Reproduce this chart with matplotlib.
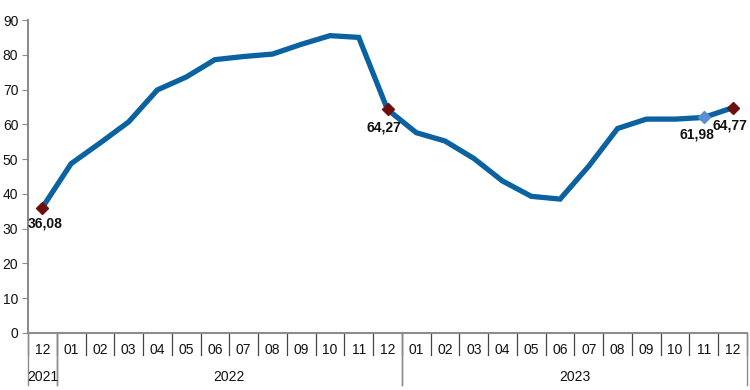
import matplotlib
matplotlib.use("Agg")
import matplotlib.pyplot as plt
import numpy as np

# month labels and values (Dec 2021 .. Dec 2023)
meses = ["12", "01", "02", "03", "04", "05", "06", "07", "08", "09", "10", "11", "12",
         "01", "02", "03", "04", "05", "06", "07", "08", "09", "10", "11", "12"]
valores = [36.08, 48.7, 54.6, 60.7, 69.9, 73.6, 78.6, 79.5, 80.2, 83.0, 85.5, 85.0, 64.27,
           57.6, 55.2, 50.2, 43.7, 39.3, 38.5, 48.0, 58.8, 61.5, 61.5, 61.98, 64.77]
anios = ["2021", "2022", "2023"]
# index ranges (start, end) of each year
anio_rangos = [(0, 0), (1, 12), (13, 24)]

# highlighted points: index, label, marker colour, label offset (pixels)
destacados = [(0, "36,08", "#6b0f0f", (3, -16)),
              (12, "64,27", "#6b0f0f", (-4, -18)),
              (23, "61,98", "#5b8fd0", (-7, -17)),
              (24, "64,77", "#6b0f0f", (-3, -18))]

fuente = "Liberation Sans"
color_linea = "#0b62a1"
gris = "#8c8c8c"
tam = 10

fig = plt.figure(figsize=(7.5, 3.9), dpi=100)
ax = fig.add_axes([28 / 750, (390 - 333) / 390, (747 - 28) / 750, 313 / 390])

x = np.arange(len(valores))
ax.plot(x, valores, color=color_linea, linewidth=3.8, solid_joinstyle="miter", zorder=2)

for i, txt, c, (dx, dy) in destacados:
    ax.plot(x[i], valores[i], marker="D", markersize=6, color=c, markeredgecolor=c, zorder=3)
    ax.annotate(txt, (x[i], valores[i]), xytext=(dx, dy), textcoords="offset pixels",
                ha="center", va="center", fontsize=tam, fontweight="bold",
                family=fuente, color="#111111")

ax.set_xlim(-0.5, len(valores) - 0.5)
ax.set_ylim(0, 90)
ax.set_yticks(range(0, 91, 10))
ax.tick_params(axis="y", length=4, color=gris, labelsize=tam, pad=3)
for lbl in ax.get_yticklabels():
    lbl.set_family(fuente)
    lbl.set_color("#111111")

ax.set_xticks([])
for s in ["top", "right"]:
    ax.spines[s].set_visible(False)
for s in ["left", "bottom"]:
    ax.spines[s].set_color(gris)
    ax.spines[s].set_linewidth(1.5)

trans = ax.get_xaxis_transform()
# separators between months
for k in range(len(valores) + 1):
    ax.plot([k - 0.5, k - 0.5], [0, -0.07], transform=trans, color="#444444",
            linewidth=0.9, clip_on=False)
# year separators
for ini, fin in anio_rangos:
    for b in (ini - 0.5, fin + 0.5):
        ax.plot([b, b], [0, -0.167], transform=trans, color=gris,
                linewidth=1.0, clip_on=False)

for k, m in enumerate(meses):
    ax.text(k, -0.055, m, transform=trans, ha="center", va="center",
            fontsize=tam, family=fuente, color="#111111")
for a, (ini, fin) in zip(anios, anio_rangos):
    ax.text((ini + fin) / 2, -0.14, a, transform=trans, ha="center", va="center",
            fontsize=tam, family=fuente, color="#111111")

fig.savefig("out.png", dpi=100)
